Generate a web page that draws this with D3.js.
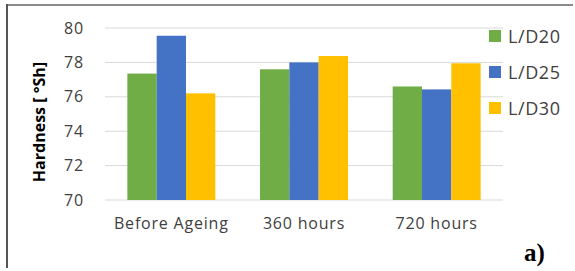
<!DOCTYPE html>
<html>
<head>
<meta charset="utf-8">
<script src="https://cdn.jsdelivr.net/npm/d3@7"></script>
<style>
  body { margin: 0; background: #fff; }
  svg { display: block; }
</style>
</head>
<body>
<svg id="chart" width="575" height="271"></svg>
<script>
// data
const categories = ["Before Ageing", "360 hours", "720 hours"];
const series = ["L/D20", "L/D25", "L/D30"];
const colors = ["#70AD47", "#4472C4", "#FFC000"];
const ld20 = [77.35, 77.6, 76.6];
const ld25 = [79.55, 78.0, 76.43];
const ld30 = [76.2, 78.37, 77.95];
const yTicks = [70, 72, 74, 76, 78, 80];

const values = [ld20, ld25, ld30];
const svg = d3.select("#chart");
const font = "Open Sans, sans-serif";

// frame (top + left only, like the cropped figure)
svg.append("line").attr("x1", 7).attr("x2", 573).attr("y1", 5).attr("y2", 5)
  .attr("stroke", "#8a8a8a").attr("stroke-width", 2);
svg.append("line").attr("x1", 7).attr("x2", 7).attr("y1", 4).attr("y2", 268)
  .attr("stroke", "#555").attr("stroke-width", 2);

const x = d3.scaleBand().domain(categories).range([105, 503])
  .paddingInner(0.337).paddingOuter(0.1685);
const xs = d3.scaleBand().domain(series).range([0, x.bandwidth()]);
const y = d3.scaleLinear().domain([70, 80]).range([200, 28]);

// gridlines
svg.append("g").selectAll("line").data(yTicks).join("line")
  .attr("x1", 105).attr("x2", 503)
  .attr("y1", d => y(d)).attr("y2", d => y(d))
  .attr("stroke", "#d9d9d9").attr("stroke-width", 1);

// y axis labels
const yAxis = svg.append("g").attr("transform", "translate(88,0)")
  .call(d3.axisLeft(y).tickValues(yTicks).tickSize(0).tickPadding(4));
yAxis.select(".domain").remove();
yAxis.selectAll("text").attr("font-family", font)
  .attr("font-size", 16).attr("letter-spacing", 0.8).attr("fill", "#404040");

// bars
const groups = svg.append("g").selectAll("g").data(categories).join("g")
  .attr("transform", d => `translate(${x(d)},0)`);
groups.selectAll("rect")
  .data((c, i) => series.map((s, j) => ({ s, v: values[j][i], c: colors[j] })))
  .join("rect")
  .attr("x", d => xs(d.s))
  .attr("width", xs.bandwidth())
  .attr("y", d => y(d.v))
  .attr("height", d => y(70) - y(d.v))
  .attr("fill", d => d.c);

// x axis labels
const xAxis = svg.append("g").attr("transform", "translate(0,215)")
  .call(d3.axisBottom(x).tickSize(0).tickPadding(3));
xAxis.select(".domain").remove();
xAxis.selectAll("text").attr("font-family", font)
  .attr("font-size", 16).attr("letter-spacing", 0.8).attr("fill", "#404040");

// y title
svg.append("text")
  .attr("transform", "translate(45,122) rotate(-90)")
  .attr("text-anchor", "middle")
  .attr("font-family", font)
  .attr("font-weight", "bold").attr("font-size", 16).attr("fill", "#000")
  .text("Hardness [ °Sh]");

// legend
const legend = svg.append("g").selectAll("g").data(series).join("g")
  .attr("transform", (d, i) => `translate(489,${36 + i * 36})`);
legend.append("rect").attr("x", 0).attr("y", -6).attr("width", 12).attr("height", 12)
  .attr("fill", (d, i) => colors[i]);
legend.append("text").attr("x", 19).attr("y", 7)
  .attr("font-family", font).attr("font-size", 18).attr("letter-spacing", 0.6)
  .attr("fill", "#404040").text(d => d);

// panel label
svg.append("text").attr("x", 524).attr("y", 261)
  .attr("font-family", "Liberation Serif, serif").attr("font-weight", "bold")
  .attr("font-size", 25).attr("fill", "#000").text("a)");
</script>
</body>
</html>
